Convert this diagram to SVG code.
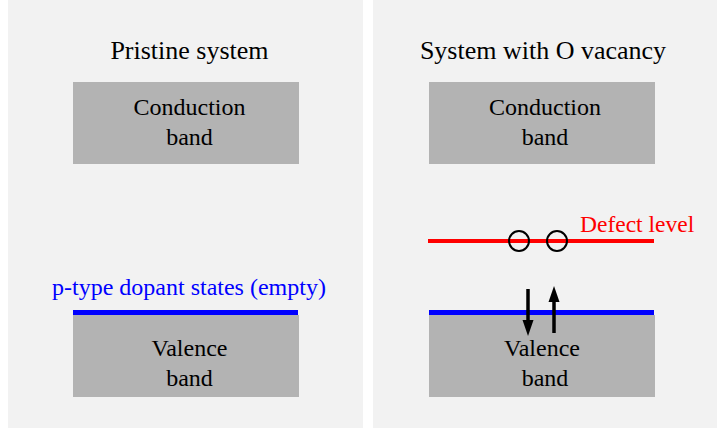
<svg xmlns="http://www.w3.org/2000/svg" width="717" height="428" viewBox="0 0 717 428">
  <style>
    .panel { fill: #f2f2f2; }
    .band { fill: #b3b3b3; }
    .t { font-family: 'Liberation Serif', 'Times New Roman', 'DejaVu Serif', serif; }
    .title { font-size: 26px; fill: #000; text-anchor: middle; }
    .lbl { font-size: 24px; fill: #000; text-anchor: middle; }
    .hole { fill: none; stroke: #000; stroke-width: 2; }
    .spin { stroke: #000; stroke-width: 3.5; fill: none; }
  </style>
  <rect width="717" height="428" fill="#ffffff"/>

  <!-- left panel: pristine -->
  <g id="panel-pristine">
    <rect class="panel" x="8" y="0" width="355" height="428"/>
    <text class="t title" x="189.5" y="59">Pristine system</text>
  </g>
  <g id="cb-pristine">
    <rect class="band" x="73" y="82" width="226" height="82"/>
    <text class="t lbl" x="189.5" y="115">Conduction</text>
    <text class="t lbl" x="189.5" y="144.5">band</text>
  </g>
  <g id="vb-pristine">
    <rect class="band" x="73" y="315" width="226" height="82"/>
    <text class="t lbl" x="189.5" y="355.5">Valence</text>
    <text class="t lbl" x="189.5" y="385.5">band</text>
  </g>
  <g id="dopant-states">
    <line x1="73" y1="312.5" x2="298" y2="312.5" stroke="#0000ff" stroke-width="5"/>
    <text class="t" x="52" y="295" font-size="24" fill="#0000ff">p-type dopant states (empty)</text>
  </g>

  <!-- right panel: O vacancy -->
  <g id="panel-vacancy">
    <rect class="panel" x="373" y="0" width="344" height="428"/>
    <text class="t title" x="543" y="59">System with O vacancy</text>
  </g>
  <g id="cb-vacancy">
    <rect class="band" x="429" y="82" width="226" height="82"/>
    <text class="t lbl" x="545" y="115">Conduction</text>
    <text class="t lbl" x="545" y="144.5">band</text>
  </g>
  <g id="vb-vacancy">
    <rect class="band" x="429" y="315" width="226" height="82"/>
    <text class="t lbl" x="542" y="355.5">Valence</text>
    <text class="t lbl" x="545" y="385.5">band</text>
  </g>
  <g id="vb-edge">
    <line x1="429" y1="312.5" x2="654" y2="312.5" stroke="#0000ff" stroke-width="5"/>
  </g>
  <g id="defect-level">
    <line x1="428" y1="241" x2="654" y2="241" stroke="#ff0000" stroke-width="4"/>
    <text class="t" x="580" y="231.5" font-size="23.5" fill="#ff0000">Defect level</text>
    <circle class="hole" cx="519" cy="241" r="10"/>
    <circle class="hole" cx="557" cy="241" r="10"/>
  </g>

  <!-- electron spin arrows -->
  <g id="connectors">
    <line class="spin" x1="528" y1="289" x2="528" y2="322"/>
    <polygon points="522.5,320 533.5,320 528,336" fill="#000"/>
    <line class="spin" x1="554" y1="333" x2="554" y2="300"/>
    <polygon points="548.5,302 559.5,302 554,286" fill="#000"/>
  </g>
</svg>
